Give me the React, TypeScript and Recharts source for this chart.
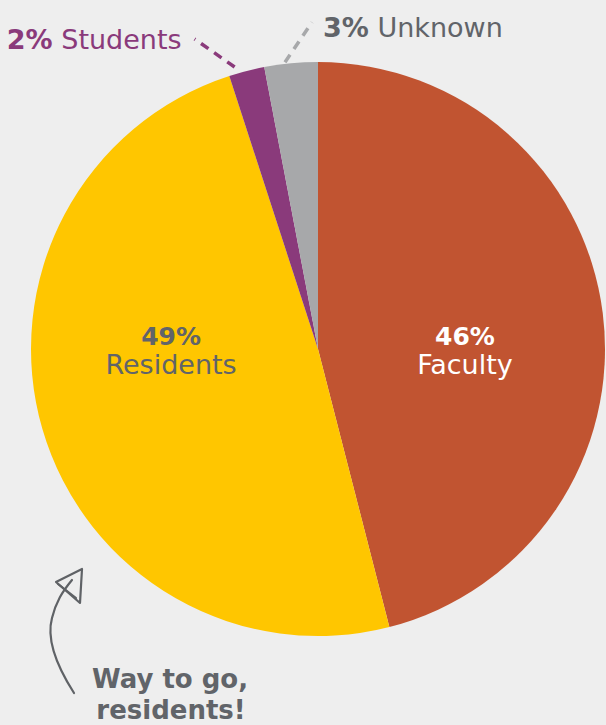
import React from 'react';
import { PieChart, Pie, Cell } from 'recharts';

const categories = ['Faculty', 'Residents', 'Students', 'Unknown'];
const shares = [46, 49, 2, 3];
const sliceColors = ['#C15431', '#FFC600', '#8A3A7B', '#A7A8AA'];

const data = categories.map((name, i) => ({ name, value: shares[i] }));

const RADIAN = Math.PI / 180;
const FONT = '"DejaVu Sans", sans-serif';
const GRAY = '#616469';

// leader-line layout for the small slices (start offset from edge, then vector to label)
const outside: Record<string, { sx: number; sy: number; vx: number; vy: number; color: string; side: 'left' | 'right' }> = {
  Students: { sx: -12, sy: -4, vx: -40, vy: -28, color: '#8A3A7B', side: 'left' },
  Unknown: { sx: -6, sy: -1, vx: 27, vy: -40, color: '#A7A8AA', side: 'right' },
};

const renderLabel = (props: any) => {
  const { cx, cy, midAngle, outerRadius, name, value } = props;
  const cos = Math.cos(-midAngle * RADIAN);
  const sin = Math.sin(-midAngle * RADIAN);

  if (outside[name]) {
    const o = outside[name];
    const ex = cx + outerRadius * cos + o.sx;
    const ey = cy + outerRadius * sin + o.sy;
    const lx = ex + o.vx;
    const ly = ey + o.vy;
    const textColor = name === 'Students' ? '#8A3A7B' : GRAY;
    return (
      <g key={name}>
        <line x1={ex} y1={ey} x2={lx} y2={ly} stroke={o.color} strokeWidth={3.5} strokeDasharray="9 7" />
        {o.side === 'left' ? (
          <text x={lx - 13} y={ly + 10} textAnchor="end" fill={textColor} fontFamily={FONT} fontSize={27}>
            <tspan fontWeight="bold">{value}%</tspan> {name}
          </text>
        ) : (
          <text x={lx + 11} y={ly + 15} textAnchor="start" fill={textColor} fontFamily={FONT} fontSize={27}>
            <tspan fontWeight="bold">{value}%</tspan> {name}
          </text>
        )}
      </g>
    );
  }

  const x = cx + Math.sign(cos) * outerRadius * 0.512;
  const fill = name === 'Faculty' ? '#FFFFFF' : GRAY;
  return (
    <g key={name}>
      <text x={x} y={cy - 4} textAnchor="middle" fill={fill} fontFamily={FONT} fontSize={25} fontWeight="bold">
        {value}%
      </text>
      <text x={x} y={cy + 25} textAnchor="middle" fill={fill} fontFamily={FONT} fontSize={27}>
        {name}
      </text>
    </g>
  );
};

export default function App() {
  return (
    <div style={{ position: 'absolute', left: 0, top: 0, width: 606, height: 725, background: '#EEEEEE', overflow: 'hidden' }}>
      <PieChart width={606} height={725} margin={{ top: 0, right: 0, bottom: 0, left: 0 }}>
        <Pie
          data={data}
          dataKey="value"
          nameKey="name"
          cx={318}
          cy={349}
          outerRadius={287}
          startAngle={90}
          endAngle={-270}
          stroke="none"
          label={renderLabel}
          labelLine={false}
          isAnimationActive={false}
        >
          {data.map((d, i) => (
            <Cell key={d.name} fill={sliceColors[i]} />
          ))}
        </Pie>
      </PieChart>
      <svg width={606} height={725} style={{ position: 'absolute', left: 0, top: 0, pointerEvents: 'none' }}>
        <g fill="none" stroke="#5F6266" strokeWidth={2.2} strokeLinecap="round" strokeLinejoin="round">
          <path d="M74,693 C58,668 46,640 52,618 C56,602 62,592 72,580" />
          <path d="M56,582 L82,569 L80,603 Z" />
          <path d="M58,584 L76,598" />
        </g>
        <text x={170} y={688} textAnchor="middle" fill={GRAY} fontFamily={FONT} fontSize={26} fontWeight="bold">
          Way to go,
        </text>
        <text x={171} y={719} textAnchor="middle" fill={GRAY} fontFamily={FONT} fontSize={26} fontWeight="bold">
          residents!
        </text>
      </svg>
    </div>
  );
}
